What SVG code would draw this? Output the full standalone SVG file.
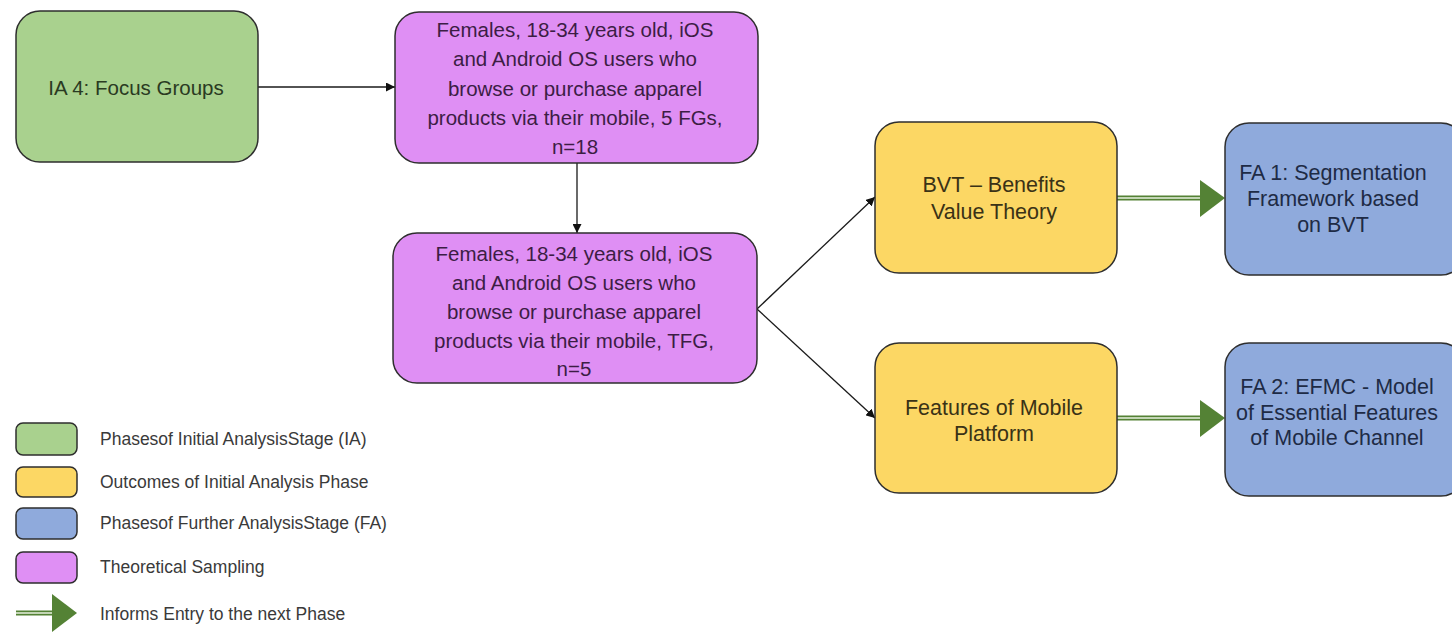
<svg xmlns="http://www.w3.org/2000/svg" width="1452" height="632" viewBox="0 0 1452 632">
<style>
.box{stroke:#2e2e2e;stroke-width:1.5}
.g{fill:#A9D18E}.p{fill:#DF8FF4}.y{fill:#FCD764}.b{fill:#8FAADC}
.t{font-family:"Liberation Sans",Arial,sans-serif;font-size:20.5px;text-anchor:middle;dominant-baseline:central}
.big{font-size:21.5px}
.tg{fill:#2a3a22}.tp{fill:#3c1d44}.ty{fill:#3a3216}.tb{fill:#1e2b45}
.lg{font-family:"Liberation Sans",Arial,sans-serif;font-size:17.5px;fill:#3a3a3a;dominant-baseline:central}
.conn{stroke:#1a1a1a;stroke-width:1.3;fill:none}
.gs{stroke:#548235;stroke-width:5;fill:none}
.gw{stroke:#e8f0e0;stroke-width:1.6;fill:none}
.gh{fill:#548235}
</style>
<defs>
<marker id="ah" viewBox="0 0 10 10" refX="10" refY="5" markerWidth="9" markerHeight="9" markerUnits="userSpaceOnUse" orient="auto">
<path d="M0,0 L10,5 L0,10 z" fill="#111"/>
</marker>
</defs>
<g id="connectors">
<line class="conn" x1="258" y1="87" x2="395" y2="87" marker-end="url(#ah)"/>
<line class="conn" x1="577" y1="163" x2="577" y2="233" marker-end="url(#ah)"/>
<line class="conn" x1="757" y1="309" x2="875" y2="197" marker-end="url(#ah)"/>
<line class="conn" x1="757" y1="309" x2="875" y2="418" marker-end="url(#ah)"/>
<g id="green-arrow-1">
<line class="gs" x1="1117" y1="198" x2="1202" y2="198"/>
<line class="gw" x1="1117" y1="198" x2="1202" y2="198"/>
<polygon class="gh" points="1200,180 1225,198 1200,217"/>
</g>
<g id="green-arrow-2">
<line class="gs" x1="1117" y1="418" x2="1202" y2="418"/>
<line class="gw" x1="1117" y1="418" x2="1202" y2="418"/>
<polygon class="gh" points="1200,400 1225,418 1200,437"/>
</g>
</g>
<g id="ia4">
<rect class="box g" x="16" y="11" width="242" height="151" rx="24"/>
<text class="t tg" x="136" y="87">IA 4: Focus Groups</text>
</g>
<g id="sampling1">
<rect class="box p" x="395" y="12" width="363" height="151" rx="24"/>
<text class="t tp" x="575" y="29">Females, 18-34 years old, iOS</text>
<text class="t tp" x="575" y="58">and Android OS users who</text>
<text class="t tp" x="575" y="88">browse or purchase apparel</text>
<text class="t tp" x="575" y="117">products via their mobile, 5 FGs,</text>
<text class="t tp" x="575" y="146">n=18</text>
</g>
<g id="sampling2">
<rect class="box p" x="393" y="233" width="364" height="150" rx="24"/>
<text class="t tp" x="574" y="253">Females, 18-34 years old, iOS</text>
<text class="t tp" x="574" y="282">and Android OS users who</text>
<text class="t tp" x="574" y="311">browse or purchase apparel</text>
<text class="t tp" x="574" y="340">products via their mobile, TFG,</text>
<text class="t tp" x="574" y="368">n=5</text>
</g>
<g id="bvt">
<rect class="box y" x="875" y="122" width="242" height="151" rx="24"/>
<text class="t big ty" x="994" y="185">BVT – Benefits</text>
<text class="t big ty" x="994" y="212">Value Theory</text>
</g>
<g id="features">
<rect class="box y" x="875" y="343" width="242" height="150" rx="24"/>
<text class="t big ty" x="994" y="408">Features of Mobile</text>
<text class="t big ty" x="994" y="434">Platform</text>
</g>
<g id="fa1">
<rect class="box b" x="1225" y="123" width="240" height="152" rx="24"/>
<text class="t big tb" x="1333" y="173">FA 1: Segmentation</text>
<text class="t big tb" x="1333" y="199">Framework based</text>
<text class="t big tb" x="1333" y="225">on BVT</text>
</g>
<g id="fa2">
<rect class="box b" x="1225" y="343" width="240" height="153" rx="24"/>
<text class="t big tb" x="1337" y="387">FA 2: EFMC - Model</text>
<text class="t big tb" x="1337" y="413">of Essential Features</text>
<text class="t big tb" x="1337" y="438">of Mobile Channel</text>
</g>
<g id="legend">
<rect class="box g" x="16" y="423" width="61" height="32" rx="7"/>
<text class="lg" x="100" y="439">Phasesof Initial AnalysisStage (IA)</text>
<rect class="box y" x="16" y="467" width="61" height="30" rx="7"/>
<text class="lg" x="100" y="482">Outcomes of Initial Analysis Phase</text>
<rect class="box b" x="16" y="508" width="61" height="31" rx="7"/>
<text class="lg" x="100" y="523">Phasesof Further AnalysisStage (FA)</text>
<rect class="box p" x="16" y="552" width="61" height="31" rx="7"/>
<text class="lg" x="100" y="567">Theoretical Sampling</text>
<line class="gs" x1="16" y1="613" x2="54" y2="613"/>
<line class="gw" x1="16" y1="613" x2="54" y2="613"/>
<polygon class="gh" points="52,594 77,613 52,632"/>
<text class="lg" x="100" y="614">Informs Entry to the next Phase</text>
</g>
</svg>
